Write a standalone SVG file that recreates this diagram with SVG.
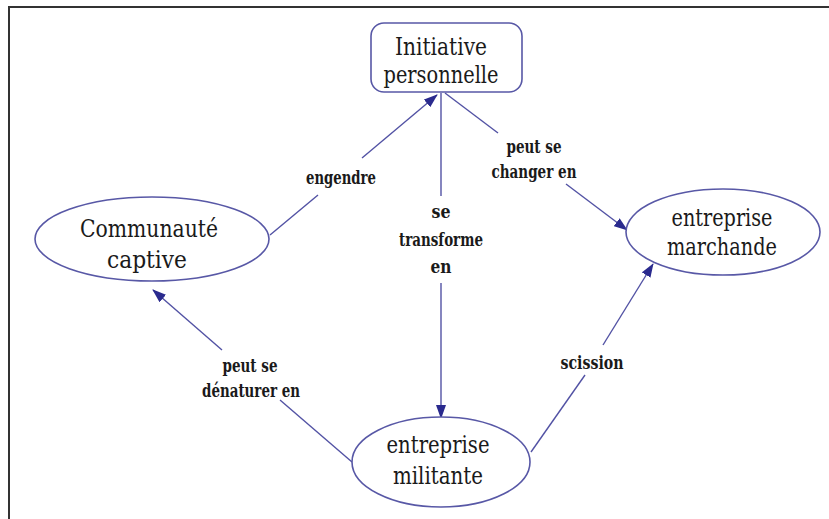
<svg xmlns="http://www.w3.org/2000/svg" width="829" height="519" viewBox="0 0 829 519">
<style>
.node{fill:#fff;stroke:#5858a6;stroke-width:1.6}
text{font-family:"DejaVu Serif","Liberation Serif",serif;fill:#1a1a1a;text-anchor:middle}
.nt{font-size:25px}
.lt{font-size:18px;font-weight:bold}
.c{fill:none;stroke:#5252a4;stroke-width:1.4}
</style>
<defs>
<marker id="ah" markerWidth="14" markerHeight="10" refX="13" refY="5" orient="auto" markerUnits="userSpaceOnUse">
<path d="M0,0 L14,5 L0,10 Z" fill="#2a2a8e"/>
</marker>
</defs>
<rect width="829" height="519" fill="#fff"/>
<path d="M9,519 L9,7 L829,7" fill="none" stroke="#333" stroke-width="2"/>
<g id="connectors">
<path class="c" d="M270,235 L318,195"/><path class="c" d="M362,158 L437,95" marker-end="url(#ah)"/>
<path class="c" d="M441,93 L441,196"/><path class="c" d="M441,283 L441,418" marker-end="url(#ah)"/>
<path class="c" d="M445,93 L498,133"/><path class="c" d="M566,184 L627,230" marker-end="url(#ah)"/>
<path class="c" d="M352,462 L280,400"/><path class="c" d="M222,350 L153,290" marker-end="url(#ah)"/>
<path class="c" d="M531,452 L585,375"/><path class="c" d="M603,345 L653,264" marker-end="url(#ah)"/>
<text class="lt" x="341" y="184" textLength="70" lengthAdjust="spacingAndGlyphs">engendre</text>
<text class="lt" x="441" y="218" textLength="19" lengthAdjust="spacingAndGlyphs">se</text>
<text class="lt" x="441" y="246" textLength="84" lengthAdjust="spacingAndGlyphs">transforme</text>
<text class="lt" x="441" y="273" textLength="21" lengthAdjust="spacingAndGlyphs">en</text>
<text class="lt" x="534" y="153" textLength="55" lengthAdjust="spacingAndGlyphs">peut se</text>
<text class="lt" x="534" y="178" textLength="85" lengthAdjust="spacingAndGlyphs">changer en</text>
<text class="lt" x="250" y="372" textLength="55" lengthAdjust="spacingAndGlyphs">peut se</text>
<text class="lt" x="251" y="397" textLength="98" lengthAdjust="spacingAndGlyphs">dénaturer en</text>
<text class="lt" x="592" y="369" textLength="63" lengthAdjust="spacingAndGlyphs">scission</text>
</g>
<g id="initiative">
<rect class="node" x="371" y="23" width="151" height="69" rx="13"/>
<text class="nt" x="441" y="55" textLength="92" lengthAdjust="spacingAndGlyphs">Initiative</text>
<text class="nt" x="441" y="83" textLength="115" lengthAdjust="spacingAndGlyphs">personnelle</text>
</g>
<g id="communaute">
<ellipse class="node" cx="152" cy="239" rx="117" ry="42"/>
<text class="nt" x="149" y="237" textLength="138" lengthAdjust="spacingAndGlyphs">Communauté</text>
<text class="nt" x="147" y="268" textLength="80" lengthAdjust="spacingAndGlyphs">captive</text>
</g>
<g id="marchande">
<ellipse class="node" cx="723" cy="232" rx="97" ry="43"/>
<text class="nt" x="722" y="226" textLength="101" lengthAdjust="spacingAndGlyphs">entreprise</text>
<text class="nt" x="722" y="255" textLength="110" lengthAdjust="spacingAndGlyphs">marchande</text>
</g>
<g id="militante">
<ellipse class="node" cx="441" cy="462" rx="89" ry="45"/>
<text class="nt" x="438" y="453" textLength="103" lengthAdjust="spacingAndGlyphs">entreprise</text>
<text class="nt" x="438" y="484" textLength="90" lengthAdjust="spacingAndGlyphs">militante</text>
</g>
</svg>
